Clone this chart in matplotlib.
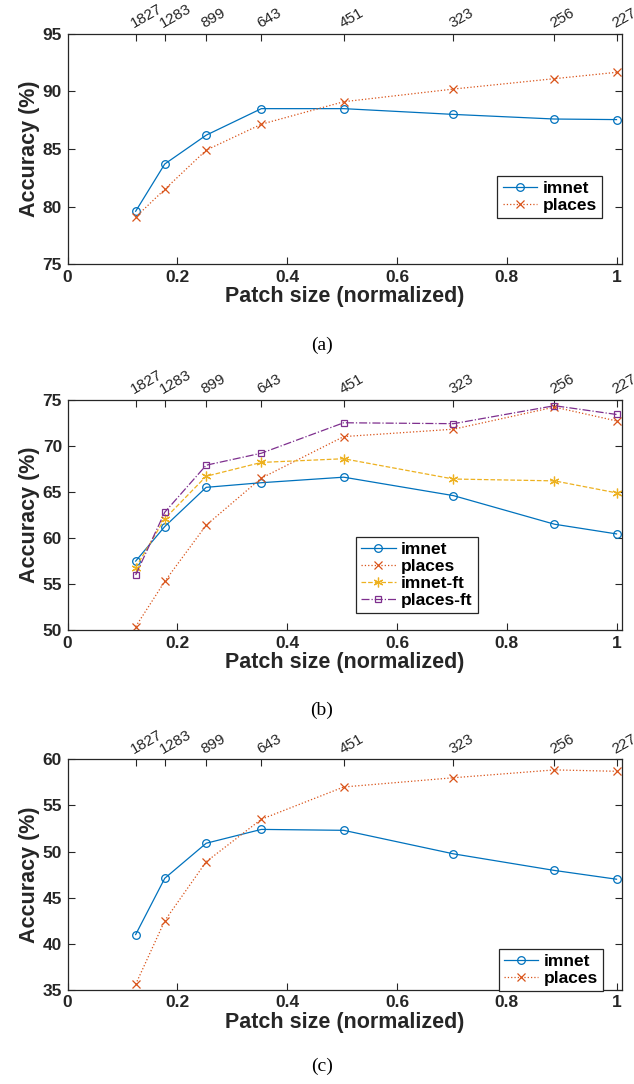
import matplotlib
matplotlib.use("Agg")
import matplotlib.pyplot as plt

# ---- data ----
patch_x = [0.124, 0.177, 0.2525, 0.353, 0.503, 0.703, 0.887, 1.0]
patch_labels = ["1827", "1283", "899", "643", "451", "323", "256", "227"]

a_imnet = [79.6, 83.7, 86.2, 88.5, 88.5, 88.0, 87.6, 87.55]
a_places = [79.1, 81.5, 84.9, 87.15, 89.1, 90.2, 91.1, 91.65]

b_imnet = [57.5, 61.25, 65.5, 66.0, 66.6, 64.6, 61.5, 60.45]
b_places = [50.4, 55.3, 61.4, 66.5, 71.0, 71.8, 74.2, 72.7]
b_imnet_ft = [56.8, 62.1, 66.7, 68.2, 68.6, 66.4, 66.2, 64.9]
b_places_ft = [56.0, 62.8, 67.9, 69.2, 72.5, 72.4, 74.35, 73.4]

c_imnet = [41.0, 47.1, 50.9, 52.4, 52.3, 49.75, 47.95, 47.0]
c_places = [35.6, 42.5, 48.9, 53.5, 57.0, 58.0, 58.85, 58.7]

x_ticks = [0, 0.2, 0.4, 0.6, 0.8, 1]
x_tick_labels = ["0", "0.2", "0.4", "0.6", "0.8", "1"]

# ---- style ----
BLUE = "#0072BD"
ORANGE = "#D95319"
YELLOW = "#EDB120"
PURPLE = "#7E2F8E"
DARK = "#262626"

plt.rcParams["font.family"] = ["Liberation Sans", "DejaVu Sans"]

fig = plt.figure(figsize=(6.34, 10.84), dpi=100)

W, H = 634.0, 1084.0
left = 67.6 / W
width = (622 - 67.6) / W
height = 230.6 / H
tops = [33.7, 399.7, 759.3]


def make_axes(top_px, ylim, yticks):
    ax = fig.add_axes([left, 1 - (top_px + 230.6) / H, width, height])
    ax.set_xlim(0, 1.01)
    ax.set_ylim(*ylim)
    ax.set_xticks(x_ticks, labels=x_tick_labels)
    ax.set_yticks(yticks)
    ax.tick_params(axis="both", direction="in", length=5, width=0.8,
                   labelsize=12.5, colors=DARK, pad=4)
    ax.tick_params(axis="y", right=True)
    for lab in ax.get_xticklabels() + ax.get_yticklabels():
        lab.set_fontweight("bold")
    for s in ax.spines.values():
        s.set_color(DARK)
        s.set_linewidth(0.9)
    ax.set_xlabel("Patch size (normalized)", fontsize=15.5, fontweight="bold",
                  color=DARK, labelpad=1)
    ax.set_ylabel("Accuracy (%)", fontsize=15.5, fontweight="bold",
                  color=DARK, labelpad=2)
    sec = ax.secondary_xaxis("top")
    sec.set_xticks(patch_x, labels=patch_labels)
    sec.tick_params(direction="in", length=5, width=0.8, labelsize=11,
                    colors=DARK, pad=2)
    for lab in sec.get_xticklabels():
        lab.set_rotation(30)
        lab.set_rotation_mode("anchor")
        lab.set_ha("left")
        lab.set_va("bottom")
    sec.spines["top"].set_visible(False)
    return ax


def style_legend(ax, loc, anchor):
    leg = ax.legend(loc=loc, bbox_to_anchor=anchor, borderaxespad=0,
                    fancybox=False, edgecolor=DARK, framealpha=1,
                    prop={"size": 12.5, "weight": "bold"}, handlelength=2.0,
                    handletextpad=0.3, labelspacing=0.1, borderpad=0.3)
    leg.get_frame().set_linewidth(0.9)
    return leg


mk = dict(markersize=5.5, markeredgewidth=0.9, linewidth=0.9)
asterisk = (6, 2, 0)

# (a)
ax = make_axes(tops[0], (75, 95), [75, 80, 85, 90, 95])
ax.plot(patch_x, a_imnet, "-", color=BLUE, marker="o", mfc="none", label="imnet", **mk)
ax.plot(patch_x, a_places, ":", color=ORANGE, marker="x", label="places", **mk)
style_legend(ax, "upper right", (0.964, 0.383))

# (b)
ax = make_axes(tops[1], (50, 75), [50, 55, 60, 65, 70, 75])
ax.plot(patch_x, b_imnet, "-", color=BLUE, marker="o", mfc="none", label="imnet", **mk)
ax.plot(patch_x, b_places, ":", color=ORANGE, marker="x", label="places", **mk)
ax.plot(patch_x, b_imnet_ft, "--", color=YELLOW, marker=asterisk, label="imnet-ft",
        markersize=7, markeredgewidth=0.9, linewidth=0.9)
ax.plot(patch_x, b_places_ft, "-.", color=PURPLE, marker="s", mfc="none",
        label="places-ft", markersize=4.5, markeredgewidth=0.9, linewidth=0.9)
style_legend(ax, "upper left", (0.520, 0.405))

# (c)
ax = make_axes(tops[2], (35, 60), [35, 40, 45, 50, 55, 60])
ax.plot(patch_x, c_imnet, "-", color=BLUE, marker="o", mfc="none", label="imnet", **mk)
ax.plot(patch_x, c_places, ":", color=ORANGE, marker="x", label="places", **mk)
style_legend(ax, "upper right", (0.966, 0.179))

# captions
for txt, ypx in [("(a)", 345), ("(b)", 710), ("(c)", 1066)]:
    fig.text(322 / W, 1 - ypx / H, txt, ha="center", va="center",
             fontsize=14, family=["Liberation Serif", "DejaVu Serif"])

fig.savefig("out.png", dpi=100)
